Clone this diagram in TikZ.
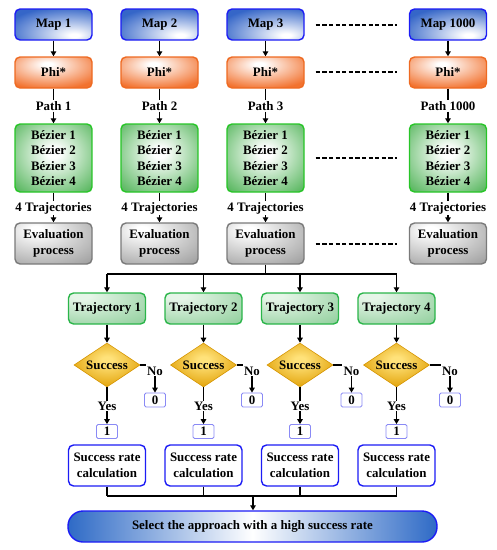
\documentclass[tikz,border=0pt]{standalone}
\usepackage{fontspec}
\setmainfont{Liberation Serif}
\usetikzlibrary{shapes.geometric,arrows.meta}
\definecolor{mapblue}{HTML}{3566C8}
\definecolor{bordblue}{HTML}{1C1CF5}
\definecolor{phiorange}{HTML}{F2722F}
\definecolor{phiborder}{HTML}{EE6A22}
\definecolor{bezgreen}{HTML}{36A83E}
\definecolor{bezborder}{HTML}{27C527}
\definecolor{evalgray}{HTML}{949494}
\definecolor{evalborder}{HTML}{7A7A7A}
\definecolor{trajgreen}{HTML}{85CA92}
\definecolor{trajlight}{HTML}{E6F5E8}
\definecolor{trajborder}{HTML}{2BB54A}
\definecolor{goldfill}{HTML}{E09E00}
\definecolor{goldlight}{HTML}{FFE27A}
\definecolor{goldborder}{HTML}{D69500}
\definecolor{smallborder}{HTML}{8A8AF5}
\definecolor{finalblue}{HTML}{2E6AC6}
\pgfdeclareradialshading{mapsh}{\pgfpoint{14bp}{-18bp}}{color(0bp)=(white); color(3bp)=(white); color(40bp)=(mapblue); color(100bp)=(mapblue)}
\pgfdeclareradialshading{phish}{\pgfpoint{-4bp}{14bp}}{color(0bp)=(white); color(3bp)=(white); color(36bp)=(phiorange); color(100bp)=(phiorange)}
\pgfdeclareradialshading{bezsh}{\pgfpoint{0bp}{4bp}}{color(0bp)=(white); color(4bp)=(white); color(42bp)=(bezgreen); color(100bp)=(bezgreen)}
\pgfdeclareradialshading{evalsh}{\pgfpoint{-12bp}{18bp}}{color(0bp)=(white); color(4bp)=(white); color(50bp)=(evalgray); color(100bp)=(evalgray)}
\pgfdeclareradialshading{trajsh}{\pgfpoint{-18bp}{22bp}}{color(0bp)=(trajlight); color(6bp)=(trajlight); color(55bp)=(trajgreen); color(100bp)=(trajgreen)}
\pgfdeclareradialshading{goldsh}{\pgfpoint{0bp}{6bp}}{color(0bp)=(goldlight); color(4bp)=(goldlight); color(32bp)=(goldfill); color(100bp)=(goldfill)}
\begin{document}
\begin{tikzpicture}[x=1pt,y=-1pt,
  txt/.style={font=\bfseries\fontsize{12.9}{15.5}\selectfont},
  box/.style={txt, rounded corners=5pt, line width=1.4pt, minimum width=77pt, align=center, inner sep=2pt},
  mapbox/.style={box, draw=bordblue, shading=mapsh, minimum height=31pt},
  phibox/.style={box, draw=phiborder, shading=phish, minimum height=31pt},
  bezbox/.style={box, draw=bezborder, shading=bezsh, minimum height=68pt},
  evalbox/.style={box, draw=evalborder, shading=evalsh, minimum height=41pt},
  trajbox/.style={box, draw=trajborder, shading=trajsh, minimum height=31pt},
  srbox/.style={box, draw=bordblue, fill=white, minimum height=41pt},
  finalbox/.style={box, draw=bordblue, rounded corners=15pt, left color=finalblue, right color=finalblue, middle color=white, minimum width=369pt, minimum height=31pt},
  dia/.style={txt, shape=diamond, aspect=1.5, inner sep=0pt, minimum width=66pt, minimum height=44pt, shading=goldsh, draw=goldborder, line width=0.6pt},
  smallbox/.style={txt, rounded corners=1.5pt, draw=smallborder, line width=0.8pt, fill=white, minimum width=21pt, minimum height=14pt, inner sep=0pt},
  lab/.style={txt, inner sep=1pt},
  ln/.style={line width=1.4pt},
  arr/.style={line width=1.4pt, -{Triangle[length=5pt,width=5.5pt]}},
  dsh/.style={line width=1.4pt, dash pattern=on 4.2pt off 2.4pt}]
\useasboundingbox (0,0) rectangle (497,550);
\foreach \i/\x/\n in {1/53.5/1, 2/159.5/2, 3/265.5/3, 4/448/1000} {
  \node[mapbox] (m\i) at (\x,24.5) {Map \n};
  \node[phibox] (p\i) at (\x,72.5) {Phi*};
  \node[lab] (pl\i) at (\x,106) {Path \n};
  \node[bezbox] (b\i) at (\x,158) {Bézier 1\\Bézier 2\\Bézier 3\\Bézier 4};
  \node[lab] (tl\i) at (\x,208) {4 Trajectories};
  \node[evalbox] (e\i) at (\x,243.5) {Evaluation\\process};
  \draw[arr] (m\i) -- (p\i);
  \draw[ln] (p\i) -- (pl\i);
  \draw[arr] (pl\i) -- (b\i);
  \draw[ln] (b\i) -- (tl\i);
  \draw[arr] (tl\i) -- (e\i);
}
\foreach \a/\s in {m/-0.5pt,p/0.5pt,b/0pt,e/-0.5pt} {
  \draw[dsh, shorten <=11pt, shorten >=12pt, transform canvas={yshift=\s}] (\a3) -- (\a4);
}
\foreach \i/\x/\nx in {1/107/155, 2/203.5/252, 3/300/351.5, 4/396.5/450} {
  \node[trajbox] (t\i) at (\x,308.5) {Trajectory \i};
  \node[dia] (d\i) at (\x,365) {Success};
  \node[lab] (no\i) at (\nx,371) {No};
  \node[smallbox] (z\i) at (\nx,400) {0};
  \node[lab] (yes\i) at (\x,406) {Yes};
  \node[smallbox] (o\i) at (\x,431.5) {1};
  \node[srbox] (s\i) at (\x,465.5) {Success rate\\calculation};
  \draw[arr] (t\i) -- (d\i);
  \draw[ln] (d\i.east) -- (d\i.east -| no\i.west);
  \draw[arr] (no\i) -- (z\i);
  \draw[ln] (d\i) -- (yes\i);
  \draw[arr] (yes\i) -- (o\i);
}
\node[finalbox] (fin) at (252.5,526.5) {Select the approach with a high success rate};
\coordinate (busE) at (265.5,274);
\coordinate (busS) at (253,496);
\draw[ln] (e3) -- (busE);
\draw[ln] (t1.north |- busE) -- (t4.north |- busE);
\foreach \i in {1,2,3,4} {
  \draw[arr] (t\i.north |- busE) -- (t\i);
  \draw[ln] (s\i) -- (s\i.south |- busS);
}
\draw[ln] (s1.south |- busS) -- (s4.south |- busS);
\draw[arr] (busS) -- (fin.north -| busS);
\end{tikzpicture}
\end{document}
